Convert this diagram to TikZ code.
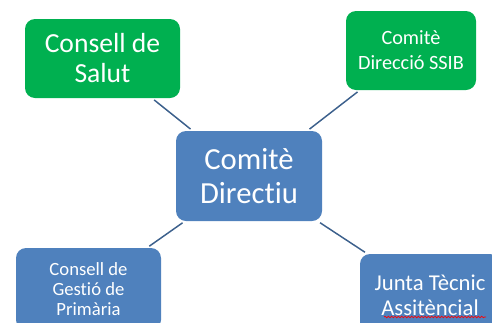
\documentclass[tikz,border=0pt]{standalone}
\usepackage{fontspec}
\setmainfont{Carlito}[Ligatures=NoCommon]
\usepackage{xcolor}
\usetikzlibrary{shapes, positioning, decorations.pathmorphing}

\definecolor{boxgreen}{RGB}{0,176,80}
\definecolor{boxblue}{RGB}{79,129,189}
\definecolor{linkblue}{RGB}{60,96,140}

\begin{document}
\begin{tikzpicture}[x=0.75pt, y=-0.75pt, box/.style={rectangle, rounded corners=7.5pt, inner sep=0pt, align=center, text=white}, link/.style={draw=linkblue, line width=1.1pt, shorten <=2pt, shorten >=2pt}]
  \useasboundingbox (0,0) rectangle (492,322);
  \clip (0,0) rectangle (492,322);

  \node[box, fill=boxblue, minimum width=109.5pt, minimum height=67.5pt, font=\fontsize{23}{25.5}\selectfont] (directiu) at (249,176) {Comitè\\Directiu};
  \node[box, fill=boxgreen, minimum width=116.25pt, minimum height=59.25pt, font=\fontsize{20.7}{22.5}\selectfont] (salut) at (102.5,58.5) {Consell de\\Salut};
  \node[box, fill=boxgreen, minimum width=97.5pt, minimum height=59.25pt, font=\fontsize{15.2}{18.75}\selectfont] (ssib) at (411,50.5) {Comitè\\Direcció SSIB};
  \node[box, fill=boxblue, minimum width=108.75pt, minimum height=61.5pt, font=\fontsize{14}{15}\selectfont] (gestio) at (88.5,289) {Consell de\\Gestió de\\Primària};
  \node[box, fill=boxblue, minimum width=105pt, minimum height=61.5pt, font=\fontsize{17}{19}\selectfont] (junta) at (430,295) {Junta Tècnic\\Assitèncial};

  \coordinate (wavyA) at (384,317);
  \coordinate (wavyB) at (486,317);
  \draw[red, line width=0.5pt, decorate, decoration={snake, amplitude=0.6pt, segment length=2.5pt}] (wavyA) -- (wavyB);

  \draw[link] (salut) -- (directiu);
  \draw[link] (ssib) -- (directiu);
  \draw[link] (gestio) -- (directiu);
  \draw[link] (junta) -- (directiu);
\end{tikzpicture}
\end{document}
